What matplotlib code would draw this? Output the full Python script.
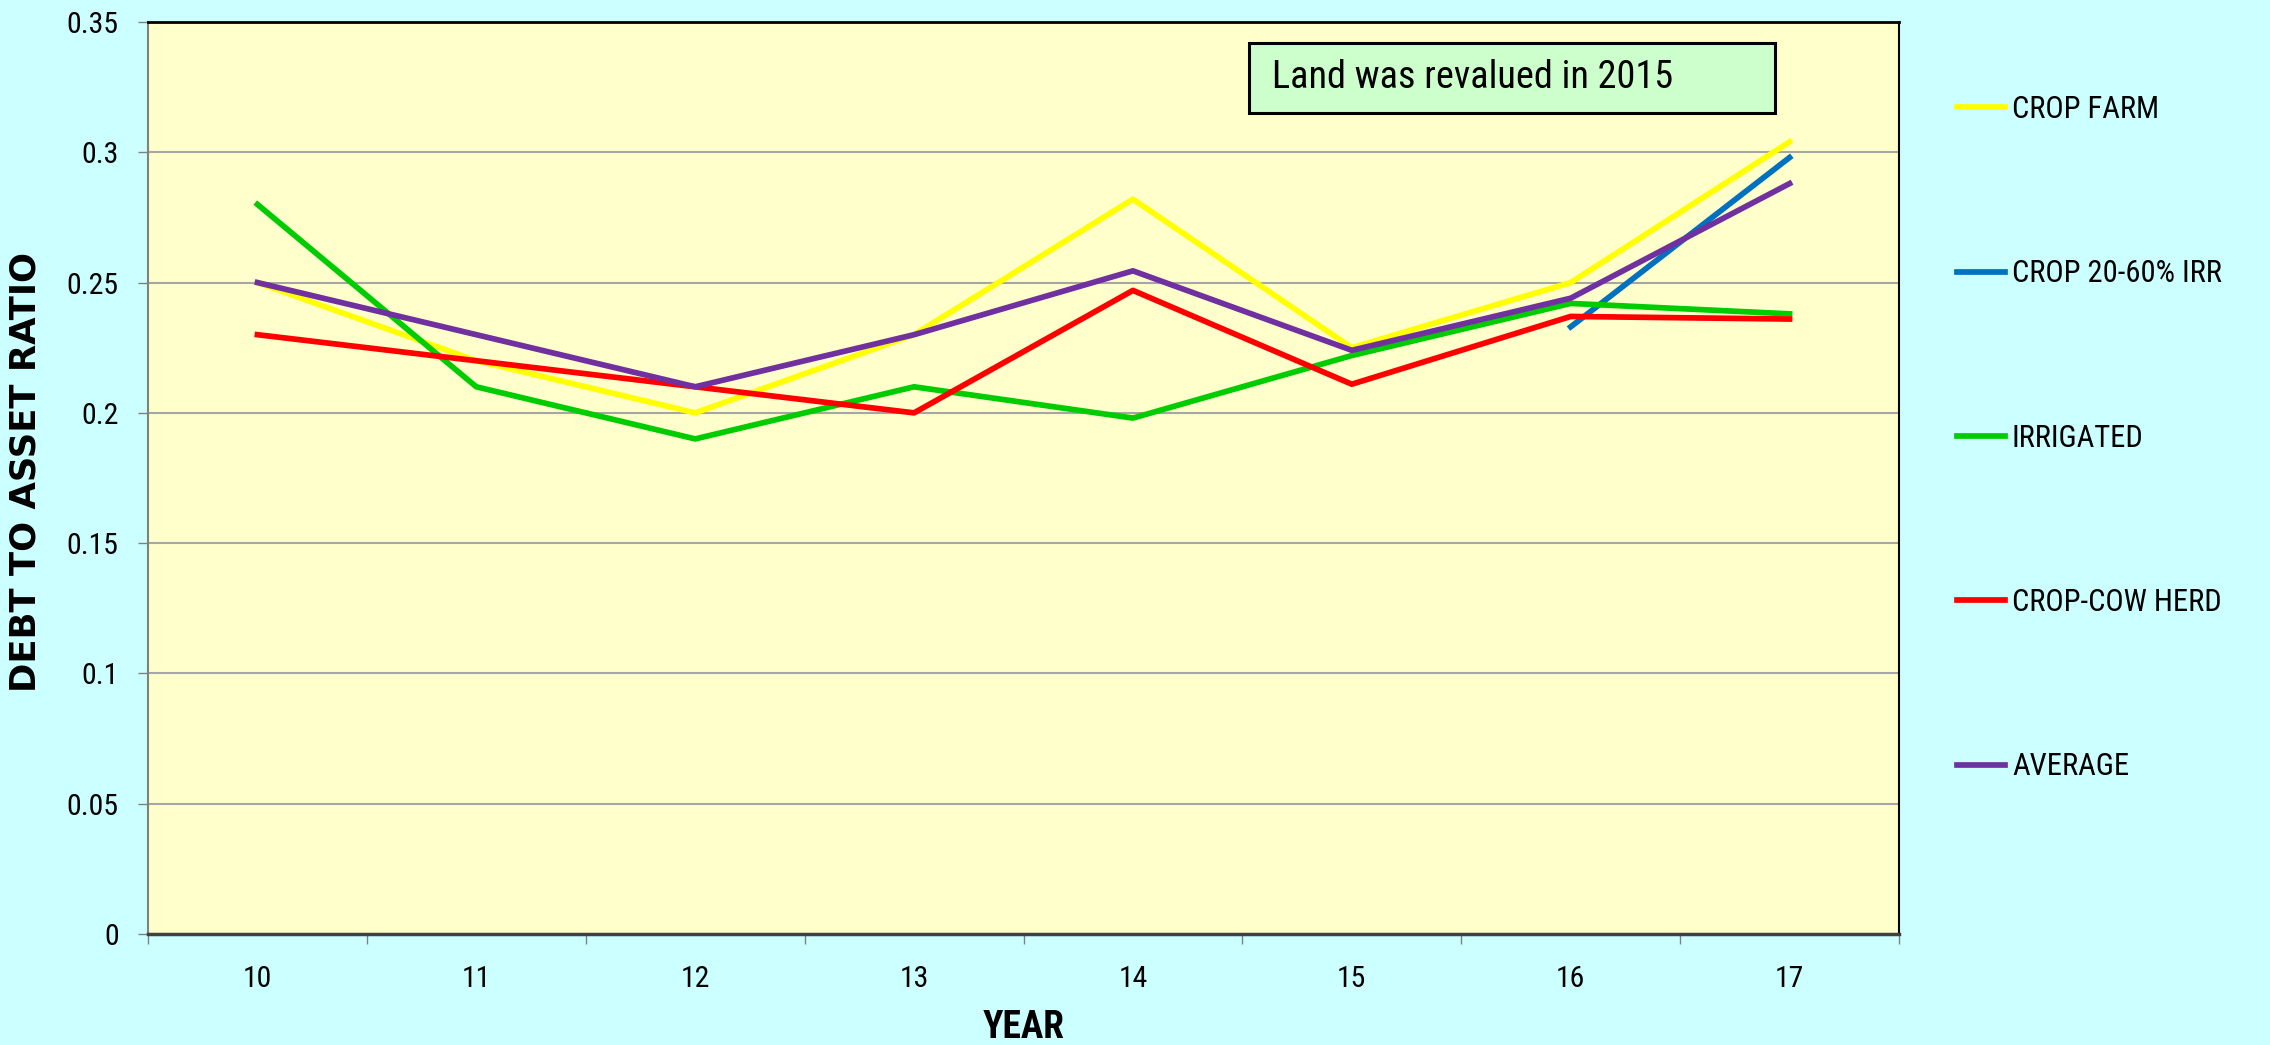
import matplotlib.pyplot as plt
from matplotlib import font_manager as fm
from matplotlib.patches import Rectangle

years = [10, 11, 12, 13, 14, 15, 16, 17]
year_labels = ['10', '11', '12', '13', '14', '15', '16', '17']

crop_farm = [0.25, 0.22, 0.20, 0.23, 0.282, 0.225, 0.25, 0.304]
crop_irr_years = [16, 17]
crop_irr = [0.233, 0.298]
irrigated = [0.28, 0.21, 0.19, 0.21, 0.198, 0.222, 0.242, 0.238]
crop_cow = [0.23, 0.22, 0.21, 0.20, 0.247, 0.211, 0.237, 0.236]
average = [0.25, 0.23, 0.21, 0.23, 0.2545, 0.224, 0.244, 0.288]

y_ticks = [0, 0.05, 0.1, 0.15, 0.2, 0.25, 0.3, 0.35]
y_tick_labels = ['0', '0.05', '0.1', '0.15', '0.2', '0.25', '0.3', '0.35']

# pick a narrow face if there is one (reference uses Calibri)
names = {f.name for f in fm.fontManager.ttflist}
cond = {f.name for f in fm.fontManager.ttflist if f.stretch in ('condensed', 'semi-condensed', 'extra-condensed')}
stretch = 'normal'
narrow_family = 'Liberation Sans'
for cand in ['Liberation Sans Narrow', 'Roboto Condensed', 'Open Sans Condensed', 'DejaVu Sans Condensed']:
    if cand in names:
        narrow_family = cand
        break
else:
    if 'DejaVu Sans' in cond:
        narrow_family, stretch = 'DejaVu Sans', 'condensed'
    elif 'Liberation Sans' in cond:
        narrow_family, stretch = 'Liberation Sans', 'condensed'

plt.rcParams['font.family'] = [narrow_family, 'DejaVu Sans']
plt.rcParams['font.stretch'] = stretch

W, H = 2270, 1045
fig = plt.figure(figsize=(W / 100, H / 100), dpi=100, facecolor='#CCFFFF')
ax = fig.add_axes([148 / W, 1 - 934 / H, 1751 / W, 912 / H])
ax.set_facecolor('#FFFFCC')

lw = 4.1
ax.plot(years, crop_farm, color='#FFFF00', lw=lw, label='CROP FARM', zorder=3)
ax.plot(crop_irr_years, crop_irr, color='#0070C0', lw=lw, label='CROP 20-60% IRR', zorder=3)
ax.plot(years, irrigated, color='#00CC00', lw=lw, label='IRRIGATED', zorder=3)
ax.plot(years, crop_cow, color='#FF0000', lw=lw, label='CROP-COW HERD', zorder=3)
ax.plot(years, average, color='#7030A0', lw=lw, label='AVERAGE', zorder=4)

ax.set_xlim(9.5, 17.5)
ax.set_ylim(0, 0.35)
ax.set_yticks(y_ticks)
ax.set_yticklabels(y_tick_labels)
ax.set_xticks(years)
ax.set_xticklabels(year_labels)
ax.set_xticks([y + 0.5 for y in [9] + years], minor=True)
ax.tick_params(axis='x', which='major', length=0, pad=22, labelsize=21.5)
ax.tick_params(axis='x', which='minor', length=7, width=1, color='#808080', direction='out')
ax.tick_params(axis='y', length=7, width=1, color='#808080', pad=14, labelsize=21.5)

ax.grid(axis='y', color='#A6A6A6', lw=1.5, zorder=1)
ax.set_axisbelow(True)

ax.spines['top'].set_color('black')
ax.spines['top'].set_linewidth(2)
ax.spines['right'].set_color('black')
ax.spines['right'].set_linewidth(1.5)
ax.spines['left'].set_color('#808080')
ax.spines['left'].set_linewidth(1.5)
ax.spines['bottom'].set_color('#404040')
ax.spines['bottom'].set_linewidth(2.5)

ax.set_ylabel('DEBT TO ASSET RATIO', fontsize=25.5, fontweight='bold',
              family=['DejaVu Sans'], fontstretch='normal', va='center')
ax.yaxis.set_label_coords(-0.0697, 0.507)
ax.set_xlabel('YEAR', fontsize=27, fontweight='bold', va='center')
ax.xaxis.set_label_coords(0.50, -0.103)

# note box
fig.patches.append(Rectangle((1249 / W, 1 - 113 / H), 526 / W, 70 / H,
                             transform=fig.transFigure, facecolor='#CCFFCC',
                             edgecolor='black', lw=2.2, zorder=5))
fig.text(1272 / W, 1 - 78 / H, 'Land was revalued in 2015', fontsize=27.5,
         va='center', ha='left', zorder=6)

fig.legend(loc='upper left', bbox_to_anchor=(1957 / W, 1 - 95 / H),
           frameon=False, fontsize=22, labelspacing=4.43, handlelength=1.57,
           handletextpad=0.23, borderpad=0, borderaxespad=0)

fig.savefig('out.png', dpi=100, facecolor=fig.get_facecolor())
